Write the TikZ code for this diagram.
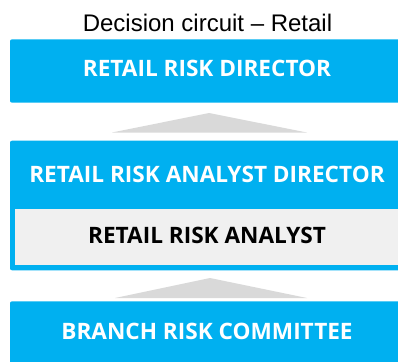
\documentclass[tikz,border=0pt]{standalone}
\usepackage{fontspec}
\setmainfont{Liberation Sans}
\newfontfamily\boxfont{Open Sans}
\definecolor{boxblue}{HTML}{00B0F0}
\definecolor{innergray}{HTML}{F0F0F0}
\definecolor{arrowgray}{HTML}{D9D9D9}
\begin{document}
\begin{tikzpicture}[x=1pt,y=-1pt,
  bluebox/.style={fill=boxblue,draw=none,rounded corners=2pt},
  graybox/.style={fill=innergray,draw=none},
  boxlabel/.style={font=\boxfont\bfseries\fontsize{22.6}{26}\selectfont,inner sep=0pt},
  uparrow/.style={fill=arrowgray,draw=none}]
\useasboundingbox (0,0) rectangle (398,361);
\clip (0,0) rectangle (398,361);
% title
\node[font=\fontsize{24}{28}\selectfont,anchor=base,inner sep=0pt] (title) at (207.5,32) {Decision circuit -- Retail};
% boxes
\path[bluebox] (10,39.3) rectangle (404,102.7);
\path[bluebox] (10,140.7) rectangle (404,270.3);
\path[graybox] (15,209.3) rectangle (410,265.3);
\path[bluebox] (10,301.3) rectangle (404,372);
% arrows
\path[uparrow] (209,113) -- (307,132.5) -- (112,132.5) -- cycle;
\path[uparrow] (210,278) -- (307,298) -- (115,298) -- cycle;
% labels
\node[boxlabel,text=white] (dir) at (207,68.5) {RETAIL RISK DIRECTOR};
\node[boxlabel,text=white] (andir) at (207,174.7) {RETAIL RISK ANALYST DIRECTOR};
\node[boxlabel,text=black] (an) at (207,235) {RETAIL RISK ANALYST};
\node[boxlabel,text=white] (brc) at (207,331.3) {BRANCH RISK COMMITTEE};
\end{tikzpicture}
\end{document}
